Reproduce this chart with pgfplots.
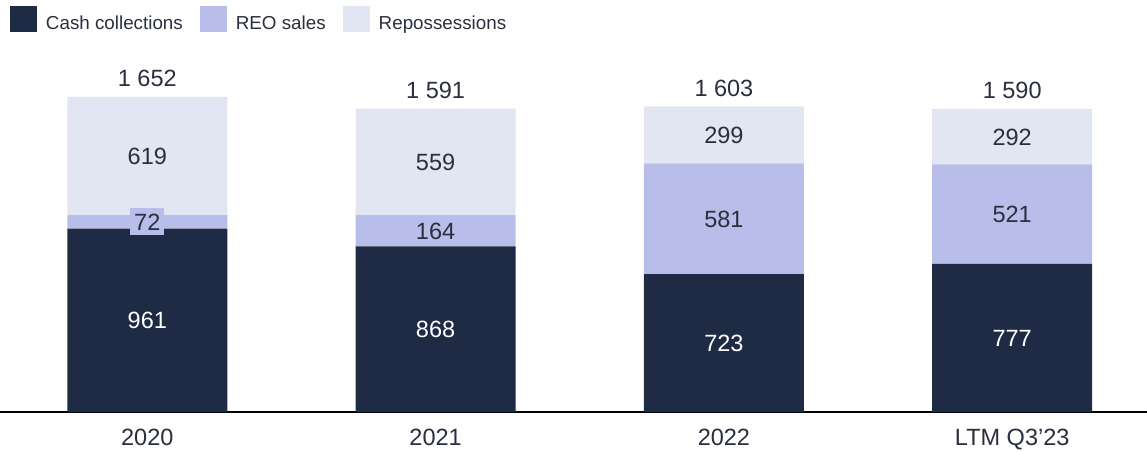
\documentclass[border=0pt]{standalone}
\usepackage{pgfplots}
\pgfplotsset{compat=1.18}
\usepackage{pgfplotstable}
\usepackage{fontspec}
\setmainfont{Liberation Sans}
\definecolor{cashNavy}{HTML}{1F2A44}
\definecolor{reoLav}{HTML}{B8BEE9}
\definecolor{repoGrey}{HTML}{E2E6F2}
\definecolor{txtGray}{HTML}{2A2E3E}
\newcommand\lblfont{\fontsize{23.5}{28}\selectfont}

\pgfplotstableread{
x cash reo rep total
0 961 72 619 1652
1 868 164 559 1591
2 723 581 299 1603
3 777 521 292 1590
}\collections

\pgfplotsset{
  frame/.style={x=288.3pt, y=0.1907pt, xmin=-0.5109, xmax=3.4672,
    ymin=0, ymax=2160.5, anchor=south west, clip=false,
    /pgf/number format/assume math mode=true},
  seglabel/.style={draw=none, mark=none, point meta=explicit,
    nodes near coords={\pgfmathprintnumber[1000 sep={\ }]{\pgfplotspointmeta}},
    every node near coord/.style={anchor=base, yshift=-8.4pt, font=\lblfont,
      text=#1, inner sep=0pt}},
}

\begin{document}
\begin{tikzpicture}
\path[use as bounding box] (0pt,-38pt) rectangle (1147pt,412pt);
\begin{axis}[frame,
  ybar stacked, bar width=160pt,
  axis y line=none, axis x line*=bottom,
  axis line style={black, line width=1.6pt, -},
  xtick={0,1,2,3}, xticklabels={2020,2021,2022,LTM Q3’23},
  major tick length=0pt,
  xticklabel style={anchor=base, yshift=-33.5pt, font=\lblfont, text=txtGray},
  legend columns=-1,
  legend style={at={(0.00872,0.98544)}, anchor=north west, draw=none,
    fill=none, inner sep=0pt, outer sep=0pt,
    font=\fontsize{18.8}{22}\selectfont, text=txtGray,
    cells={anchor=base west}, nodes={inner sep=0pt},
    /tikz/every odd column/.append style={column sep=8.7pt},
    /tikz/every even column/.append style={column sep=17pt}},
  legend image code/.code={\fill[#1] (0pt,-2.7pt) rectangle (27.3pt,23.3pt);},
]
\addplot[fill=cashNavy, draw=none] table[x=x, y=cash] {\collections};
\addlegendentry{Cash collections}
\addplot[fill=reoLav, draw=none] table[x=x, y=reo] {\collections};
\addlegendentry{REO sales}
\addplot[fill=repoGrey, draw=none] table[x=x, y=rep] {\collections};
\addlegendentry{Repossessions}
\end{axis}

\begin{axis}[frame, hide axis]
\addplot[seglabel=white] table[x=x, y expr=\thisrow{cash}/2, meta=cash] {\collections};
\addplot[seglabel=txtGray,
  every node near coord/.append style={fill=reoLav, text height=16.8pt,
    text depth=0pt, inner xsep=4pt, inner ysep=5.2pt}]
  table[x=x, y expr=\thisrow{cash}+\thisrow{reo}/2, meta=reo] {\collections};
\addplot[seglabel=txtGray]
  table[x=x, y expr=\thisrow{cash}+\thisrow{reo}+\thisrow{rep}/2, meta=rep] {\collections};
\addplot[seglabel=txtGray, every node near coord/.append style={yshift=18.4pt}]
  table[x=x, y=total, meta=total] {\collections};
\end{axis}
\end{tikzpicture}
\end{document}
